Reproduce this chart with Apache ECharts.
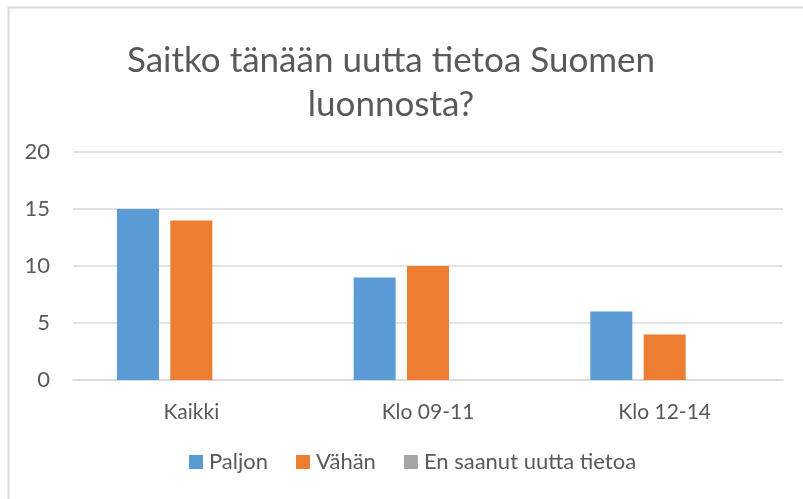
<!DOCTYPE html>
<html>
<head>
<meta charset="utf-8">
<script src="https://cdn.jsdelivr.net/npm/echarts@6/dist/echarts.min.js"></script>
<style>html,body{margin:0;padding:0;background:#fff;}#c{width:803px;height:499px;}</style>
</head>
<body>
<div id="c"></div>
<script>
const categories = ['Kaikki', 'Klo 09-11', 'Klo 12-14'];
const seriesNames = ['Paljon', 'Vähän', 'En saanut uutta tietoa'];
const paljon = [15, 9, 6];
const vahan = [14, 10, 4];
const enSaanut = [0, 0, 0];
const titleText = 'Saitko tänään uutta tietoa Suomen\nluonnosta?';

const FONT = 'Lato';
const chart = echarts.init(document.getElementById('c'), null, {renderer: 'canvas'});
chart.setOption({
  animation: false,
  backgroundColor: '#ffffff',
  color: ['#5b9bd5', '#ed7d31', '#a5a5a5'],
  graphic: [{
    type: 'rect', silent: true, z: -1,
    shape: {x: 8.5, y: 7.5, width: 900, height: 600},
    style: {fill: 'none', stroke: '#d9d9d9', lineWidth: 2}
  }],
  title: {
    text: titleText,
    left: 391, top: 39,
    textAlign: 'center',
    padding: 0,
    textStyle: {fontFamily: FONT, fontSize: 35, fontWeight: 'normal', color: '#595959', lineHeight: 44}
  },
  legend: {
    bottom: 21, left: 184,
    itemWidth: 14, itemHeight: 14, itemGap: 28,
    icon: 'rect',
    textStyle: {fontFamily: FONT, fontSize: 22, color: '#595959', padding: [0, 0, 0, 1]},
    data: seriesNames
  },
  grid: {left: 73, right: 20, top: 152, bottom: 119, containLabel: false},
  xAxis: {
    type: 'category', data: categories,
    axisLine: {show: true, lineStyle: {color: '#d9d9d9', width: 1.5}},
    axisTick: {show: false},
    axisLabel: {fontFamily: FONT, fontSize: 21, color: '#595959', margin: 22}
  },
  yAxis: {
    type: 'value', min: 0, max: 20, interval: 5,
    axisLine: {show: false}, axisTick: {show: false},
    splitLine: {lineStyle: {color: '#d9d9d9', width: 1.5}},
    axisLabel: {fontFamily: FONT, fontSize: 22, color: '#595959', margin: 23}
  },
  series: [
    {name: seriesNames[0], type: 'bar', data: paljon, barWidth: 42, barGap: '27%'},
    {name: seriesNames[1], type: 'bar', data: vahan, barWidth: 42, barGap: '27%'},
    {name: seriesNames[2], type: 'bar', data: enSaanut, barWidth: 42, barGap: '27%'}
  ]
});
</script>
</body>
</html>
